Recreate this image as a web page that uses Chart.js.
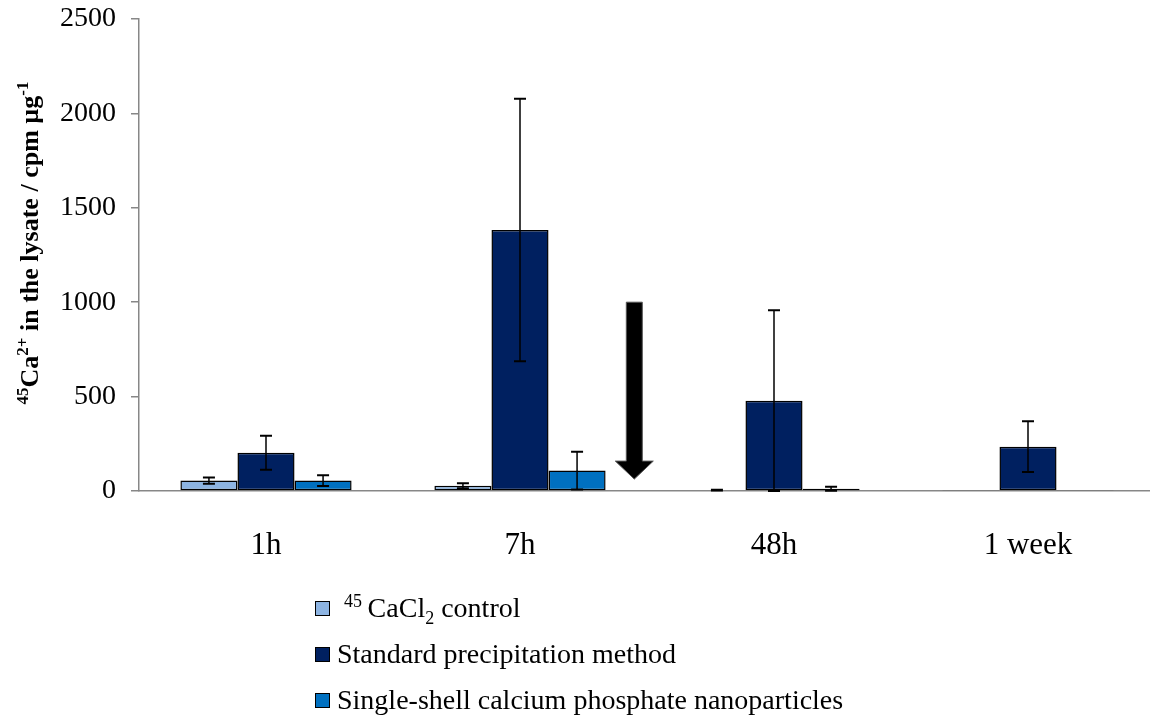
<!DOCTYPE html>
<html>
<head>
<meta charset="utf-8">
<script src="https://cdn.jsdelivr.net/npm/chart.js@4.4.1/dist/chart.umd.min.js"></script>
<style>
  body { margin: 0; background: #fff; }
  #wrap { position: relative; width: 1150px; height: 717px; overflow: hidden; }
  #tela { position: absolute; left: 0; top: 0; width: 1160px; height: 717px; }
  #legenda { position: absolute; left: 315px; top: 585px; font-family: 'Liberation Serif', serif; font-size: 28px; color: #000; }
  #legenda div { height: 46px; line-height: 46px; white-space: nowrap; }
  #legenda .caixa { display: inline-block; width: 13px; height: 13px; border: 1px solid #000; margin-right: 7px; vertical-align: middle; position: relative; top: -2px; }
  #legenda sup, #legenda sub { font-size: 18px; line-height: 0; }
</style>
</head>
<body>
<div id="wrap">
  <div id="tela"><canvas id="grafico"></canvas></div>
  <div id="legenda"></div>
</div>
<script>
// dados do grafico
const categorias = ['1h', '7h', '48h', '1 week'];
const series = ['45CaCl2 control', 'Standard precipitation method', 'Single-shell calcium phosphate nanoparticles'];
const legendaHtml = ['&nbsp;<sup>45</sup>&thinsp;CaCl<sub>2</sub> control', 'Standard precipitation method', 'Single-shell calcium phosphate nanoparticles'];
const controle = [55, 28, 4, 2];
const padrao = [203, 1382, 478, 235];
const casca = [55, 108, 12, 2];
const controleErro = [16, 13, 2, 0];
const padraoErro = [90, 695, 480, 135];
const cascaErro = [28, 100, 11, 0];
const yTicks = [0, 500, 1000, 1500, 2000, 2500];
// seta entre 7h e 48h (valores no eixo y)
const setaPosicao = 1.45;
const setaTopo = 1000;
const setaPonta = 63;

const cores = ['#8DB4E2', '#002060', '#0070C0'];
const valores = [controle, padrao, casca];
const erros = [controleErro, padraoErro, cascaErro];

//barras de erro
const barrasErro = {
  id: 'barrasErro',
  afterDatasetsDraw(chart) {
    const ctx = chart.ctx, y = chart.scales.y;
    ctx.save();
    ctx.strokeStyle = '#000';
    for (let d = 0; d < erros.length; d++) {
      const meta = chart.getDatasetMeta(d);
      for (let i = 0; i < erros[d].length; i++) {
        if (!erros[d][i]) continue;
        const x = meta.data[i].x;
        const yTopo = y.getPixelForValue(valores[d][i] + erros[d][i]);
        const yBase = y.getPixelForValue(Math.max(valores[d][i] - erros[d][i], 0));
        ctx.lineWidth = 1.5;
        ctx.beginPath();
        ctx.moveTo(x, yTopo); ctx.lineTo(x, yBase);
        ctx.stroke();
        ctx.lineWidth = 2;
        ctx.beginPath();
        ctx.moveTo(x - 6, yTopo); ctx.lineTo(x + 6, yTopo);
        ctx.moveTo(x - 6, yBase); ctx.lineTo(x + 6, yBase);
        ctx.stroke();
      }
    }
    ctx.restore();
  }
};

//seta preta
const seta = {
  id: 'seta',
  afterDatasetsDraw(chart) {
    const ctx = chart.ctx, xs = chart.scales.x, ys = chart.scales.y;
    const cx = xs.getPixelForValue(setaPosicao);
    const topo = ys.getPixelForValue(setaTopo);
    const ponta = ys.getPixelForValue(setaPonta);
    const baseCabeca = ponta - 18;
    ctx.save();
    ctx.fillStyle = '#000';
    ctx.strokeStyle = '#555';
    ctx.lineWidth = 1;
    ctx.beginPath();
    ctx.moveTo(cx - 8, topo);
    ctx.lineTo(cx + 8, topo);
    ctx.lineTo(cx + 8, baseCabeca);
    ctx.lineTo(cx + 19, baseCabeca);
    ctx.lineTo(cx, ponta);
    ctx.lineTo(cx - 19, baseCabeca);
    ctx.lineTo(cx - 8, baseCabeca);
    ctx.closePath();
    ctx.fill();
    ctx.stroke();
    ctx.restore();
  }
};

//titulo do eixo y com sobrescritos
const tituloY = {
  id: 'tituloY',
  afterDraw(chart) {
    const ctx = chart.ctx, area = chart.chartArea;
    const partes = [['45', true], ['Ca', false], ['2+', true], [' in the lysate / cpm \u00b5g', false], ['-1', true]];
    const fonteN = 'bold 26px "Liberation Serif"';
    const fonteS = 'bold 17px "Liberation Serif"';
    ctx.save();
    let total = 0;
    partes.forEach(p => { ctx.font = p[1] ? fonteS : fonteN; total += ctx.measureText(p[0]).width; });
    ctx.translate(38, (area.top + area.bottom) / 2 - 12);
    ctx.rotate(-Math.PI / 2);
    ctx.fillStyle = '#000';
    ctx.textBaseline = 'alphabetic';
    ctx.textAlign = 'left';
    let x = -total / 2;
    partes.forEach(p => {
      ctx.font = p[1] ? fonteS : fonteN;
      ctx.fillText(p[0], x, p[1] ? -10 : 0);
      x += ctx.measureText(p[0]).width;
    });
    ctx.restore();
  }
};

const datasets = series.map((nome, k) => ({
  label: nome,
  data: valores[k],
  backgroundColor: cores[k],
  borderColor: '#000',
  borderWidth: 1.5,
  borderSkipped: false
}));

const grafico = new Chart(document.getElementById('grafico'), {
  type: 'bar',
  data: { labels: categorias, datasets: datasets },
  options: {
    responsive: true,
    maintainAspectRatio: false,
    animation: false,
    layout: { padding: { top: 0, right: 5, left: 0, bottom: 0 } },
    datasets: { bar: { categoryPercentage: 0.674, barPercentage: 1 } },
    plugins: { legend: { display: false }, tooltip: { enabled: false } },
    scales: {
      x: {
        grid: { display: false },
        border: { color: '#878787', width: 1.5 },
        ticks: { font: { family: 'Liberation Serif', size: 31 }, color: '#000', padding: 28 },
        afterFit(s) { s.height = 226; }
      },
      y: {
        min: 0,
        max: 2500,
        afterBuildTicks(s) { s.ticks = yTicks.map(v => ({ value: v })); },
        grid: { drawOnChartArea: false, tickLength: 8, color: '#878787', lineWidth: 1.5 },
        border: { color: '#878787', width: 1.5 },
        ticks: { font: { family: 'Liberation Serif', size: 28 }, color: '#000', padding: 15, callback: v => String(v) },
        afterFit(s) { s.width = 139; s.paddingTop = 19; s.paddingBottom = 16; }
      }
    }
  },
  plugins: [barrasErro, seta, tituloY]
});

//legenda em html
let leg = '';
for (let k = 0; k < series.length; k++) {
  leg += '<div><span class="caixa" style="background:' + cores[k] + '"></span>' + legendaHtml[k] + '</div>';
}
document.getElementById('legenda').innerHTML = leg;
</script>
</body>
</html>
